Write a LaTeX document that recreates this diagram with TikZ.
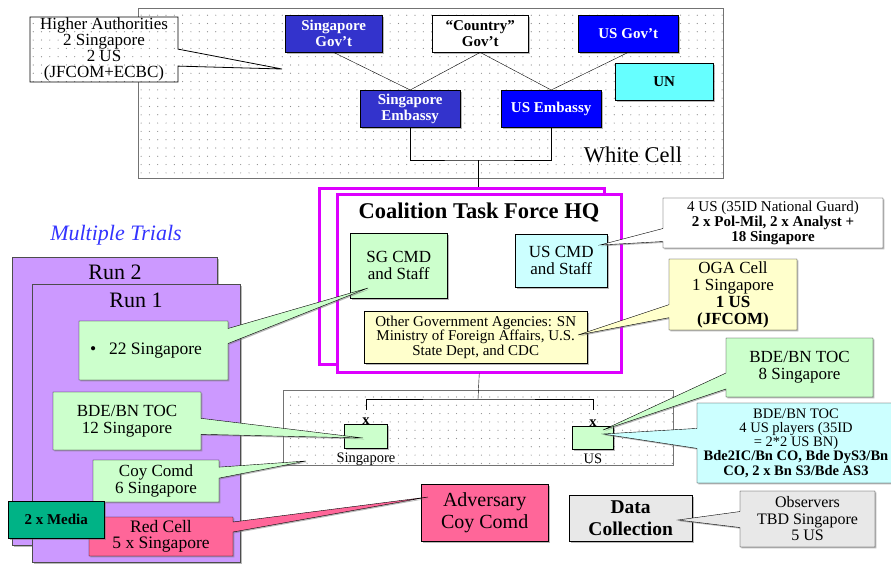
\documentclass[tikz,border=0pt]{standalone}
\usepackage{fontspec}
\setmainfont{Liberation Serif}
\usetikzlibrary{shapes.callouts,shadows,patterns}
\pgfdeclarepatternformonly{sparsedots}{\pgfpoint{-1pt}{-1pt}}{\pgfpoint{1pt}{1pt}}{\pgfpoint{8.3pt}{8.3pt}}{\pgfpathcircle{\pgfpointorigin}{0.6pt}\pgfusepath{fill}}
\definecolor{sgblue}{HTML}{3333CC}
\definecolor{usblue}{HTML}{0000FF}
\definecolor{uncyan}{HTML}{66FFFF}
\definecolor{lgreen}{HTML}{CCFFCC}
\definecolor{lcyan}{HTML}{CCFFFF}
\definecolor{lyellow}{HTML}{FFFFCC}
\definecolor{lpurple}{HTML}{CC99FF}
\definecolor{hqmag}{HTML}{DD00FF}
\definecolor{rpink}{HTML}{FF6699}
\definecolor{mteal}{HTML}{00B386}
\definecolor{lgray}{HTML}{E8E8E8}
\definecolor{trialblue}{HTML}{3333FF}
\newcommand{\myfs}[2]{\fontsize{#1pt}{#2pt}\selectfont}
\begin{document}
\begin{tikzpicture}[x=1pt,y=-1pt,
  box/.style={draw, inner sep=0pt, anchor=north west, align=center},
  shad/.style={drop shadow={shadow xshift=1.3pt, shadow yshift=-1.3pt, fill=black!55}},
  co/.style={rectangle callout, draw, inner sep=0pt, anchor=center, align=center},
  dotfill/.style={pattern=sparsedots, pattern color=black!45},
  bluebox/.style={box, shad, text=white, font=\bfseries\myfs{15}{16}, minimum height=37pt},
  body/.style={font=\myfs{17}{17}}]
\useasboundingbox (0,0) rectangle (891,563);
\clip (0,0) rectangle (891,563);

% pointer tips
\coordinate (tHA) at (282,69);
\coordinate (t22) at (368,288);
\coordinate (t12) at (363,438);
\coordinate (tcoy) at (306,461);
\coordinate (tred) at (428,497);
\coordinate (tobs) at (678,520);
\coordinate (t8) at (603,430);
\coordinate (tcy) at (603,434);
\coordinate (tus) at (600,245);
\coordinate (toga) at (578,335);

% White cell
\node[box, draw=black!55, dotfill, minimum width=585pt, minimum height=170pt] (wc) at (138,8) {};
\node[font=\myfs{22.5}{24}] (wclabel) at (633,155) {White Cell};

\node[co, draw=none, preaction={fill=white}, dotfill, minimum width=148pt, minimum height=65pt,
  callout absolute pointer={(tHA)}, callout pointer width=17pt, font=\myfs{17}{16}] (ha) at (104,49.5)
  {Higher Authorities\\2 Singapore\\2 US\\(JFCOM+ECBC)};
\node[co, draw=black, line width=0.8pt, minimum width=148pt, minimum height=65pt,
  callout absolute pointer={(tHA)}, callout pointer width=17pt] (haedge) at (104,49.5) {};

\node[bluebox, fill=sgblue, minimum width=97pt] (sggov) at (285,15) {Singapore\\Gov’t};
\node[bluebox, fill=white, text=black, minimum width=96pt] (ctgov) at (432,15) {“Country”\\Gov’t};
\node[bluebox, fill=usblue, minimum width=100pt] (usgov) at (578,15) {US Gov’t};
\node[bluebox, fill=uncyan, text=black, minimum width=98pt] (un) at (615,63) {UN};
\node[bluebox, fill=sgblue, minimum width=100pt] (sgemb) at (360,90) {Singapore\\Embassy};
\node[bluebox, fill=usblue, minimum width=100pt] (usemb) at (501,90) {US Embassy};

\draw (sggov.south) -- (sgemb.north);
\draw (ctgov.south) -- (sgemb.north);
\draw (ctgov.south) -- (usemb.north);
\draw (usgov.south) -- (usemb.north);
\coordinate (wcj) at (478,160);
\draw (sgemb.south) |- (wcj) -| (usemb.south);

% Coalition HQ
\node[box, draw=hqmag, line width=2.5pt, fill=white, minimum width=285pt, minimum height=176pt] (hqb) at (318,187) {};
\node[box, draw=hqmag, line width=2.5pt, fill=white, minimum width=284pt, minimum height=178pt] (hqf) at (336,193) {};
\draw (wcj) -- (wcj |- hqb.north);
\node[font=\bfseries\myfs{22.5}{24}] (hqtitle) at (479,213) {Coalition Task Force HQ};
\node[box, shad, fill=lgreen, body, minimum width=97pt, minimum height=65pt] (sgcmd) at (350,233) {SG CMD\\and Staff};
\node[box, shad, fill=lcyan, body, minimum width=92pt, minimum height=53pt] (uscmd) at (515,234) {US CMD\\and Staff};
\node[box, shad, fill=lyellow, font=\myfs{15}{14.5}, minimum width=223pt, minimum height=52pt] (oga) at (364,311)
  {Other Government Agencies: SN\\Ministry of Foreign Affairs, U.S.\\State Dept, and CDC};

% Bottom (field) box
\node[box, draw=black!55, dotfill, minimum width=390pt, minimum height=75pt] (bb) at (283,390) {};
\coordinate (bj) at (478,399);
\coordinate (sgt) at (366,410);
\coordinate (ust) at (593,410);
\draw (hqf.south) -- (bj);
\draw (sgt) |- (bj) -| (ust);
\node[box, shad, fill=lgreen, minimum width=43pt, minimum height=24pt] (sgu) at (344,424) {};
\node[box, shad, fill=lgreen, minimum width=41pt, minimum height=23pt] (usu) at (572,426) {};
\node[font=\bfseries\myfs{14.5}{14}] (sgx) at (366,421) {x};
\node[font=\bfseries\myfs{14.5}{14}] (usx) at (593,423) {x};
\node[font=\myfs{14.5}{15}] (sgl) at (366,459) {Singapore};
\node[font=\myfs{14.5}{15}] (usl) at (593,459) {US};

% Runs
\node[font=\itshape\myfs{22}{24}, text=trialblue] (mt) at (116,235) {Multiple Trials};
\node[box, shad, fill=lpurple, draw=black!70, minimum width=205pt, minimum height=288pt] (run2) at (12,257) {};
\node[box, shad, fill=lpurple, draw=black!70, minimum width=208pt, minimum height=278pt] (run1) at (32,284) {};
\node[font=\myfs{22}{24}] (r2l) at (115,272) {Run 2};
\node[font=\myfs{22}{24}] (r1l) at (136,300) {Run 1};

% Adversary, data collection
\node[box, shad, fill=rpink, font=\myfs{20}{22}, minimum width=127pt, minimum height=57pt] (adv) at (421,484) {Adversary\\Coy Comd};
\node[box, shad, fill=lgray, font=\bfseries\myfs{19.5}{21.5}, minimum width=123pt, minimum height=46pt] (dc) at (569,495) {Data\\Collection};

% Callouts
\node[co, shad, fill=lgreen, font=\myfs{17.5}{17}, minimum width=149pt, minimum height=59pt,
  callout absolute pointer={(t22)}, callout pointer width=15pt] (s22) at (153.5,350.5)
  {\makebox[149pt][l]{\hspace{11pt}•\hspace{13pt}22 Singapore}};
\node[co, shad, fill=lgreen, body, minimum width=148pt, minimum height=58pt,
  callout absolute pointer={(t12)}, callout pointer width=16pt] (s12) at (127,421) {BDE/BN TOC\\12 Singapore};
\node[co, shad, fill=lgreen, body, minimum width=126pt, minimum height=42pt,
  callout absolute pointer={(tcoy)}, callout pointer width=11pt] (coy) at (156,481) {Coy Comd\\6 Singapore};
\node[co, shad, fill=rpink, font=\myfs{17.5}{16}, minimum width=144pt, minimum height=39pt,
  callout absolute pointer={(tred)}, callout pointer width=10pt] (red) at (161,536.5) {Red Cell\\5 x Singapore};
\node[box, shad, fill=mteal, font=\bfseries\myfs{15}{16}, minimum width=96pt, minimum height=37pt] (media) at (8,501) {2 x Media};

\node[co, shad, fill=white, font=\myfs{15}{15}, minimum width=220pt, minimum height=50pt,
  callout absolute pointer={(tus)}, callout pointer width=13pt] (uscall) at (773,223)
  {4 US (35ID National Guard)\\\textbf{2 x Pol-Mil, 2 x Analyst +}\\\textbf{18 Singapore}};
\node[co, shad, fill=lyellow, font=\myfs{17}{17}, minimum width=128pt, minimum height=71pt,
  callout absolute pointer={(toga)}, callout pointer width=13pt] (ogacell) at (733,294.5)
  {OGA Cell\\1 Singapore\\\textbf{1 US}\\\textbf{(JFCOM)}};
\node[co, shad, fill=lgreen, body, minimum width=147pt, minimum height=59pt,
  callout absolute pointer={(t8)}, callout pointer width=16pt] (b8) at (799.5,367.5) {BDE/BN TOC\\8 Singapore};
\node[co, shad, fill=lcyan, font=\myfs{14.5}{14.3}, minimum width=198pt, minimum height=80pt,
  callout absolute pointer={(tcy)}, callout pointer width=20pt] (cy) at (796,443)
  {BDE/BN TOC\\4 US players (35ID\\= 2*2 US BN)\\\textbf{Bde2IC/Bn CO, Bde DyS3/Bn}\\\textbf{CO, 2 x Bn S3/Bde AS3}};
\node[co, shad, fill=lgray, font=\myfs{16}{16.5}, minimum width=135pt, minimum height=56pt,
  callout absolute pointer={(tobs)}, callout pointer width=16pt] (obs) at (807.5,519)
  {Observers\\TBD Singapore\\5 US};
\end{tikzpicture}
\end{document}
